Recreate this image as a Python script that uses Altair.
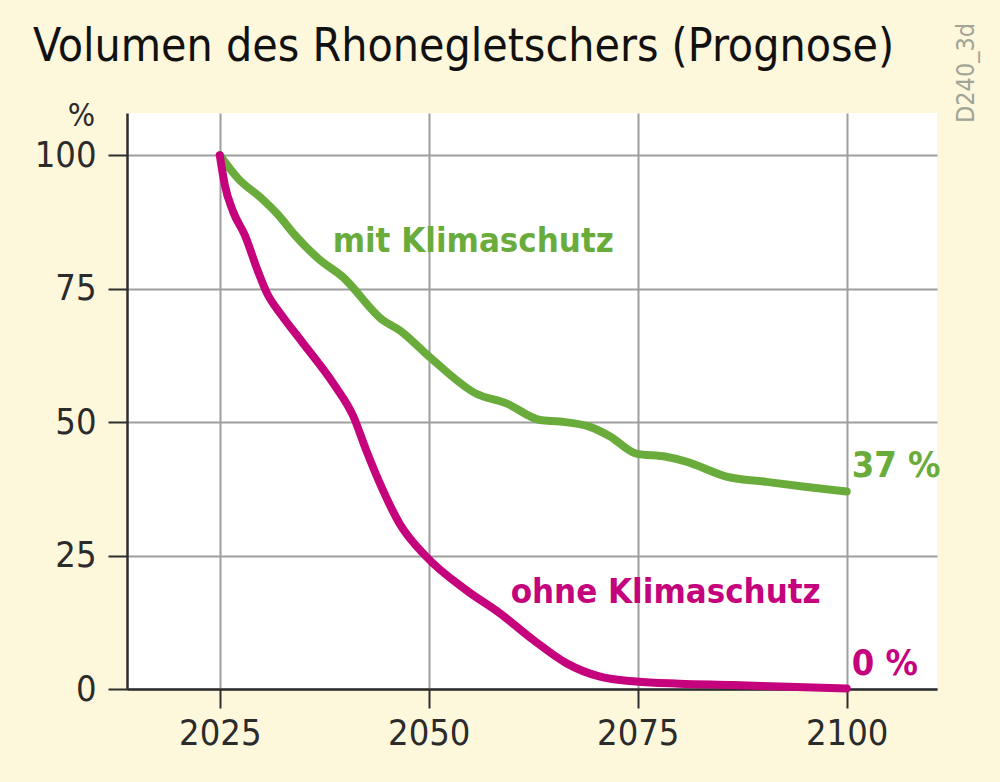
import altair as alt
import pandas as pd

# --- data ---
years_mit = [2025, 2027.2, 2030.0, 2032.0, 2034.0, 2036.8, 2039.7, 2044.5, 2046.5, 2050.1,
             2055.7, 2059.3, 2063.3, 2065.7, 2069.3, 2071.7, 2074.8, 2078.4, 2080.8,
             2085.6, 2090.4, 2095, 2100]
vol_mit = [100, 95.6, 91.9, 88.8, 85.0, 80.6, 77.2, 69.1, 67.2, 62.2,
           55.3, 53.5, 50.4, 50.1, 49.1, 47.3, 44.1, 43.5, 42.6,
           39.8, 38.8, 37.9, 37.0]

years_ohne = [2025, 2025.6, 2026.6, 2028.0, 2029.6, 2030.6, 2032.4, 2034.8,
              2038.6, 2041.0, 2042.5, 2044.5, 2046.5, 2049.7, 2054.5, 2058.5, 2062.5,
              2066.5, 2070.5, 2074.8, 2080.0, 2086.4, 2093.0, 2100]
vol_ohne = [100, 94.4, 89.4, 85.0, 78.1, 74.3, 70.0, 65.1,
            57.2, 51.0, 44.8, 37.3, 31.0, 24.8, 18.5, 14.2, 9.2,
            4.8, 2.3, 1.4, 1.0, 0.75, 0.4, 0.1]

series_names = ["mit Klimaschutz", "ohne Klimaschutz"]
series_colors = ["#6aac3b", "#c4037d"]

x_ticks = [2025, 2050, 2075, 2100]
y_ticks = [0, 25, 50, 75, 100]

label_years = [2038.5, 2059.8]
label_values = [83.8, 18.0]

end_texts = ["37 %", "0 %"]
end_years = [2100, 2100]
end_values = [37, 0]

title_text = "Volumen des Rhonegletschers (Prognose)"
code_text = "D240_3d"

FONT = "DejaVu Sans Condensed"

# --- tables ---
lines_df = pd.DataFrame(
    {"Jahr": years_mit + years_ohne,
     "Volumen": vol_mit + vol_ohne,
     "Szenario": [series_names[0]] * len(years_mit) + [series_names[1]] * len(years_ohne)}
)
labels_df = pd.DataFrame({"Jahr": label_years, "Volumen": label_values, "Szenario": series_names, "Text": series_names})
ends_df = pd.DataFrame({"Jahr": end_years, "Volumen": end_values, "Szenario": series_names, "Text": end_texts})

x_scale = alt.Scale(domain=[2013.9, 2110.8], nice=False, zero=False)
y_scale = alt.Scale(domain=[0, 107.9], nice=False)
color_scale = alt.Scale(domain=series_names, range=series_colors)

x_enc = alt.X("Jahr:Q", scale=x_scale,
              axis=alt.Axis(values=x_ticks, format="d", title=None, grid=True,
                            labelFontSize=36, labelPadding=8, tickSize=19))
y_enc = alt.Y("Volumen:Q", scale=y_scale,
              axis=alt.Axis(values=y_ticks, title="%", grid=True,
                            labelFontSize=36, labelPadding=12, tickSize=19,
                            titleAngle=0, titleAlign="center", titleBaseline="alphabetic",
                            titleX=-46, titleY=12, titleFontSize=32,
                            titleFontWeight="normal", titleFont=FONT, titleColor="#2b2b2b"))
color_enc = alt.Color("Szenario:N", scale=color_scale, legend=None)

lines = alt.Chart(lines_df).mark_line(
    strokeWidth=8, strokeCap="round", strokeJoin="round", interpolate="monotone"
).encode(x=x_enc, y=y_enc, color=color_enc, order="Jahr:Q")

series_labels = alt.Chart(labels_df).mark_text(
    align="left", baseline="middle", font=FONT, fontSize=34.5, fontWeight="bold"
).encode(x="Jahr:Q", y="Volumen:Q", text="Text:N", color=color_enc)

end_labels = alt.Chart(ends_df).mark_text(
    align="left", baseline="middle", font=FONT, fontSize=36, fontWeight="bold", dx=5, dy=-25
).encode(x="Jahr:Q", y="Volumen:Q", text="Text:N", color=color_enc)

code_label = alt.Chart(pd.DataFrame({"t": [code_text]})).mark_text(
    angle=270, align="center", baseline="middle", font=FONT, fontSize=25, color="#a3a396"
).encode(x=alt.value(839), y=alt.value(-40), text="t:N")

chart = alt.layer(lines, series_labels, end_labels, code_label).properties(
    width=810, height=576,
    autosize=alt.AutoSizeParams(type="none"),
    padding={"left": 127, "top": 113, "right": 63, "bottom": 93},
    background="#fdf7dc",
    title=alt.TitleParams(title_text, anchor="start", frame="group", dx=-94, dy=78,
                          font=FONT, fontSize=46, fontWeight="normal", color="#111111",
                          offset=30),
).configure_view(
    fill="white", stroke=None
).configure_axis(
    labelFont=FONT, labelColor="#2b2b2b", labelFontWeight="normal",
    domainColor="#2e2e2e", domainWidth=2.5,
    tickColor="#2e2e2e", tickWidth=2,
    gridColor="#9e9e9e", gridWidth=2,
)

chart.save("out.html", embed_options={"renderer": "svg", "actions": False})
